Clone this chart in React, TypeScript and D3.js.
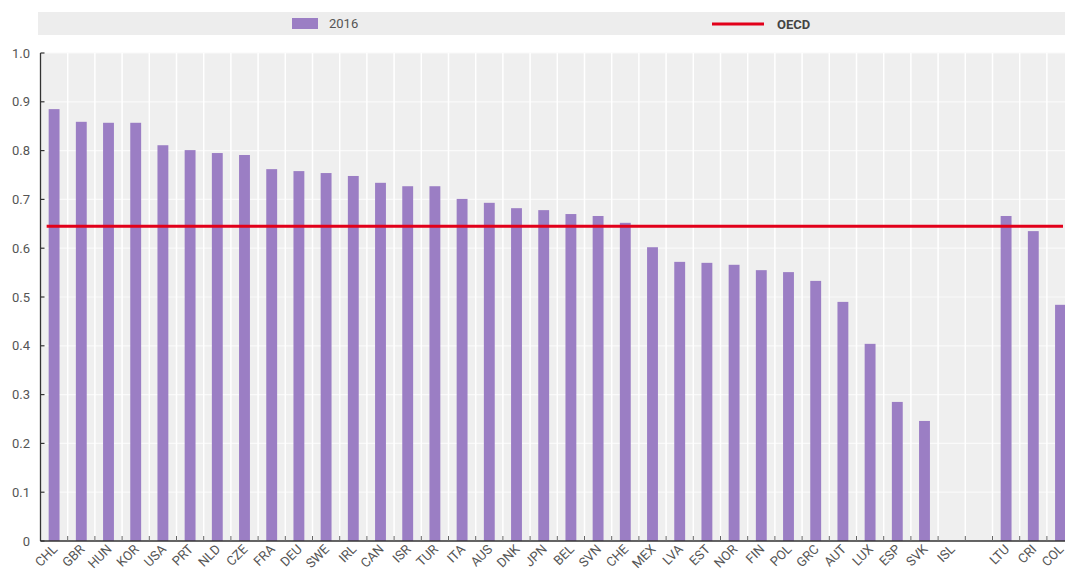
import React, { useEffect, useRef } from 'react';
import * as d3 from 'd3';

// countries in chart order ('' is the empty slot between ISL and the partner countries)
const countries = [
  'CHL', 'GBR', 'HUN', 'KOR', 'USA', 'PRT', 'NLD', 'CZE', 'FRA', 'DEU', 'SWE', 'IRL',
  'CAN', 'ISR', 'TUR', 'ITA', 'AUS', 'DNK', 'JPN', 'BEL', 'SVN', 'CHE', 'MEX', 'LVA',
  'EST', 'NOR', 'FIN', 'POL', 'GRC', 'AUT', 'LUX', 'ESP', 'SVK', 'ISL', '', 'LTU', 'CRI', 'COL',
];
const values2016: (number | null)[] = [
  0.885, 0.859, 0.857, 0.857, 0.811, 0.801, 0.795, 0.791, 0.762, 0.758, 0.754, 0.748,
  0.734, 0.727, 0.727, 0.701, 0.693, 0.682, 0.678, 0.670, 0.666, 0.652, 0.602, 0.572,
  0.570, 0.566, 0.555, 0.551, 0.533, 0.490, 0.404, 0.285, 0.246, null, null, 0.666, 0.635, 0.484,
];
const oecdAverage = 0.645;
const yTicks = [0, 0.1, 0.2, 0.3, 0.4, 0.5, 0.6, 0.7, 0.8, 0.9, 1.0];

const W = 1065;
const H = 571;
const FONT = "'Liberation Sans Narrow', 'Arial Narrow', 'Roboto', sans-serif";

const App = () => {
  const svgRef = useRef<SVGSVGElement>(null);

  useEffect(() => {
    const svg = d3.select(svgRef.current);
    svg.selectAll('*').remove();

    const left = 40.5;
    const top = 53;
    const bottom = 541;
    const step = 27.2;

    const x = d3.scaleBand<number>()
      .domain(d3.range(countries.length))
      .range([left, left + step * countries.length])
      .paddingInner(0.6)
      .paddingOuter(0.3);
    const y = d3.scaleLinear().domain([0, 1]).range([bottom, top]);

    // legend strip
    svg.append('rect')
      .attr('x', 38).attr('y', 12).attr('width', W - 38).attr('height', 23)
      .attr('fill', '#ededed');
    svg.append('rect')
      .attr('x', 292).attr('y', 18).attr('width', 26).attr('height', 11)
      .attr('fill', '#9b7ec4');
    svg.append('text')
      .attr('x', 329).attr('y', 28)
      .style('font-family', FONT).style('font-size', '13px').style('fill', '#555')
      .text('2016');
    svg.append('line')
      .attr('x1', 712).attr('x2', 764).attr('y1', 24).attr('y2', 24)
      .attr('stroke', '#e2001a').attr('stroke-width', 3);
    svg.append('text')
      .attr('x', 777).attr('y', 28.5)
      .style('font-family', FONT).style('font-size', '13px').style('font-weight', 'bold')
      .style('fill', '#444')
      .text('OECD');

    // plot background
    const plotRight = left + step * countries.length;
    svg.append('rect')
      .attr('x', left).attr('y', top).attr('width', plotRight - left).attr('height', bottom - top)
      .attr('fill', '#efefef');

    // horizontal grid
    svg.append('g').selectAll('line')
      .data(yTicks.slice(1))
      .join('line')
      .attr('x1', left).attr('x2', plotRight)
      .attr('y1', d => y(d)).attr('y2', d => y(d))
      .attr('stroke', '#fafafa').attr('stroke-width', 1.2);

    // vertical grid at category boundaries
    const bounds = d3.range(1, countries.length).map(i => left + step * i);
    svg.append('g').selectAll('line')
      .data(bounds)
      .join('line')
      .attr('x1', d => d).attr('x2', d => d)
      .attr('y1', top).attr('y2', bottom)
      .attr('stroke', '#fff').attr('stroke-width', 1.5);

    // bars
    svg.append('g').selectAll('rect')
      .data(values2016.map((v, i) => ({ v, i })).filter(d => d.v !== null))
      .join('rect')
      .attr('x', d => x(d.i)!)
      .attr('width', x.bandwidth())
      .attr('y', d => y(d.v as number))
      .attr('height', d => bottom - y(d.v as number))
      .attr('fill', '#9b7ec4');

    // OECD average line
    svg.append('line')
      .attr('x1', x(0)! - 2).attr('x2', 1063)
      .attr('y1', y(oecdAverage)).attr('y2', y(oecdAverage))
      .attr('stroke', '#e2001a').attr('stroke-width', 3);

    // y axis
    const ya = svg.append('g');
    ya.append('line')
      .attr('x1', left).attr('x2', left).attr('y1', top).attr('y2', bottom)
      .attr('stroke', '#333').attr('stroke-width', 1.3);
    ya.selectAll('line.tick')
      .data(yTicks)
      .join('line')
      .attr('class', 'tick')
      .attr('x1', left).attr('x2', left + 4)
      .attr('y1', d => y(d)).attr('y2', d => y(d))
      .attr('stroke', '#333').attr('stroke-width', 1.2);
    ya.selectAll('text')
      .data(yTicks)
      .join('text')
      .attr('x', 30).attr('y', d => y(d) + 4.5)
      .attr('text-anchor', 'end')
      .style('font-family', FONT).style('font-size', '13px').style('fill', '#555')
      .text(d => (d === 0 ? '0' : d3.format('.1f')(d)));

    // x axis
    const xa = svg.append('g');
    xa.append('line')
      .attr('x1', left).attr('x2', plotRight).attr('y1', bottom).attr('y2', bottom)
      .attr('stroke', '#333').attr('stroke-width', 1.5);
    xa.selectAll('line.tick')
      .data(bounds)
      .join('line')
      .attr('class', 'tick')
      .attr('x1', d => d).attr('x2', d => d)
      .attr('y1', bottom).attr('y2', bottom - 5)
      .attr('stroke', '#666').attr('stroke-width', 1);
    xa.selectAll('text')
      .data(countries.map((c, i) => ({ c, i })).filter(d => d.c !== ''))
      .join('text')
      .attr('transform', d => `translate(${x(d.i)! + x.bandwidth() / 2 + 4},${bottom + 9}) rotate(-45)`)
      .attr('text-anchor', 'end')
      .style('font-family', FONT).style('font-size', '13px').style('fill', '#555')
      .text(d => d.c);
  }, []);

  return (
    <svg
      ref={svgRef}
      width={W}
      height={H}
      style={{ position: 'absolute', left: 0, top: 0, background: '#fff' }}
    />
  );
};

export default App;
